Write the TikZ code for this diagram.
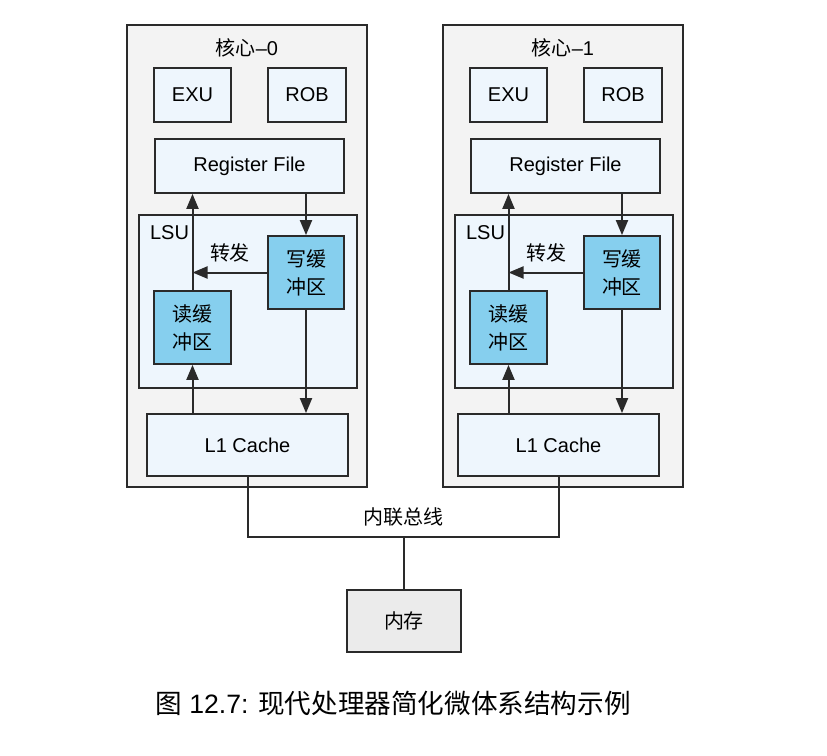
\documentclass[tikz,border=0pt]{standalone}
\usepackage{fontspec}
\setmainfont{Liberation Sans}
\newfontfamily\cjk{Noto Sans CJK SC}
\usepackage{tikz}
\usetikzlibrary{arrows.meta}
\definecolor{linie}{HTML}{2A2A2A}
\definecolor{kerngrau}{HTML}{F3F3F3}
\definecolor{hellblau}{HTML}{EEF6FD}
\definecolor{puffer}{HTML}{86CFEE}
\definecolor{speicher}{HTML}{EBEBEB}
\tikzstyle{Kern}= [draw=linie,fill=kerngrau,line width=0.9pt]
\tikzstyle{Einheit}= [draw=linie,fill=hellblau,line width=0.9pt,font=\fontsize{10}{14}\selectfont]
\tikzstyle{Puffer}= [draw=linie,fill=puffer,line width=0.9pt,align=center,font=\fontsize{10}{14}\selectfont\cjk]
\tikzstyle{Text}= [font=\fontsize{10}{14}\selectfont]
\tikzstyle{Pfeil}= [draw=linie,line width=1pt,-{Triangle[length=7.5pt,width=6pt]}]
\tikzstyle{Bus}= [draw=linie,line width=1pt]

\begin{document}
\begin{tikzpicture}[x=0.5pt,y=-0.5pt]
		\useasboundingbox (0,0) rectangle (827,756);

		% Kern 0
		\node [Kern,minimum width=120pt,minimum height=231pt] (k0) at (247,256) {};
		\node [Text] (t0) at (247,48) {{\cjk 核心}\textendash 0};
		\node [Einheit,minimum width=38.5pt,minimum height=27pt] (exu0) at (192.5,95) {EXU};
		\node [Einheit,minimum width=39pt,minimum height=27pt] (rob0) at (307,95) {ROB};
		\node [Einheit,minimum width=94.5pt,minimum height=27pt] (rf0) at (249.5,166) {Register File};
		\node [Einheit,minimum width=109pt,minimum height=86.5pt] (lsu0) at (248,301.5) {};
		\node [Text,anchor=west] (lsul0) at (143,233) {LSU};
		\node [Puffer,minimum width=38pt,minimum height=36.5pt] (wb0) at (306,272.5) {写缓\\冲区};
		\node [Puffer,minimum width=38.5pt,minimum height=36.5pt] (rb0) at (192.5,327.5) {读缓\\冲区};
		\node [Text] (fw0) at (230,253) {\cjk 转发};
		\node [Einheit,minimum width=100.5pt,minimum height=31pt] (l10) at (247.5,445) {L1 Cache};

		\draw[Pfeil] (rb0.north) -- (rb0.north |- rf0.south);
		\draw[Pfeil] (wb0.north |- rf0.south) -- (wb0.north);
		\draw[Pfeil] (wb0.west) -- (rb0.north |- wb0.west);
		\draw[Pfeil] (wb0.south) -- (wb0.south |- l10.north);
		\draw[Pfeil] (rb0.south |- l10.north) -- (rb0.south);

		% Kern 1
		\node [Kern,minimum width=120pt,minimum height=231pt] (k1) at (563,256) {};
		\node [Text] (t1) at (563,48) {{\cjk 核心}\textendash 1};
		\node [Einheit,minimum width=38.5pt,minimum height=27pt] (exu1) at (508.5,95) {EXU};
		\node [Einheit,minimum width=39pt,minimum height=27pt] (rob1) at (623,95) {ROB};
		\node [Einheit,minimum width=94.5pt,minimum height=27pt] (rf1) at (565.5,166) {Register File};
		\node [Einheit,minimum width=109pt,minimum height=86.5pt] (lsu1) at (564,301.5) {};
		\node [Text,anchor=west] (lsul1) at (459,233) {LSU};
		\node [Puffer,minimum width=38pt,minimum height=36.5pt] (wb1) at (622,272.5) {写缓\\冲区};
		\node [Puffer,minimum width=38.5pt,minimum height=36.5pt] (rb1) at (508.5,327.5) {读缓\\冲区};
		\node [Text] (fw1) at (546,253) {\cjk 转发};
		\node [Einheit,minimum width=100.5pt,minimum height=31pt] (l11) at (558.5,445) {L1 Cache};

		\draw[Pfeil] (rb1.north) -- (rb1.north |- rf1.south);
		\draw[Pfeil] (wb1.north |- rf1.south) -- (wb1.north);
		\draw[Pfeil] (wb1.west) -- (rb1.north |- wb1.west);
		\draw[Pfeil] (wb1.south) -- (wb1.south |- l11.north);
		\draw[Pfeil] (rb1.south |- l11.north) -- (rb1.south);

		% Bus und Speicher
		\coordinate (bl) at (247.5,537);
		\coordinate (br) at (558.5,537);
		\coordinate (bm) at (404,537);
		\node [Text] (busl) at (404,517) {\cjk 内联总线};
		\node [draw=linie,fill=speicher,line width=0.9pt,minimum width=57pt,minimum height=31pt,font=\fontsize{10}{14}\selectfont\cjk] (mem) at (404,621) {内存};

		\draw[Bus] (l10.south) -- (bl) -- (br) -- (l11.south);
		\draw[Bus] (bm) -- (mem.north);

		\node [font=\fontsize{13.3}{16}\selectfont] (cap) at (393,703) {{\cjk 图} 12.7: {\cjk 现代处理器简化微体系结构示例}};
	\end{tikzpicture}
\end{document}
